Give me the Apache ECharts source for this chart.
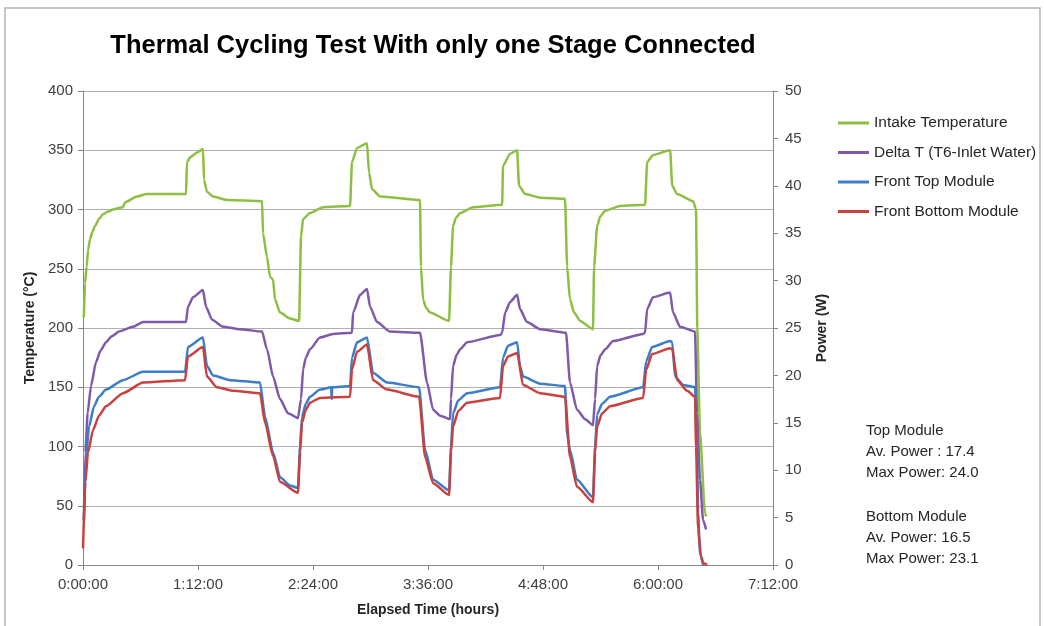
<!DOCTYPE html>
<html>
<head>
<meta charset="utf-8">
<title>Thermal Cycling Test</title>
<script src="https://cdn.jsdelivr.net/npm/echarts@6/dist/echarts.min.js"></script>
<style>
  html, body { margin: 0; padding: 0; background: #ffffff; }
  #chart { width: 1044px; height: 626px; }
</style>
</head>
<body>
<div id="chart"></div>
<script>
// Elapsed time in minutes, temperature in °C
const intakeTemperature = [
  [0.5, 209], [1.3, 238], [2.3, 252], [3.2, 266], [4.4, 275], [5.8, 281], [7.5, 286], [10.0, 292],
  [12.5, 296], [15.5, 298], [18.8, 300], [25.0, 302], [26.3, 306], [33.8, 311], [40.1, 313],
  [64.5, 313], [65.1, 340], [67.0, 344], [71.4, 348], [75.1, 351], [75.8, 325], [77.6, 315],
  [81.4, 311], [90.2, 308], [112.1, 307], [112.7, 280], [115.2, 260], [117.1, 243], [119.0, 241],
  [120.2, 224], [123.4, 213], [129.6, 208], [135.3, 206], [136.5, 277], [137.8, 292], [142.1, 297],
  [150.3, 302], [167.2, 303], [168.4, 340], [171.6, 352], [177.8, 356], [179.1, 331], [181.0, 317],
  [186.0, 311], [211.0, 308], [211.6, 252], [212.9, 224], [214.8, 217], [217.3, 213], [229.2, 206],
  [230.4, 252], [231.7, 286], [233.5, 293], [236.1, 297], [244.2, 302], [262.4, 304], [263.0, 337],
  [267.4, 347], [271.8, 350], [273.0, 320], [276.8, 313], [286.2, 310], [301.8, 309], [303.1, 252],
  [304.9, 224], [307.5, 213], [311.2, 206], [319.3, 199], [320.0, 252], [321.9, 286], [323.8, 294],
  [326.9, 299], [336.3, 303], [351.9, 304], [353.2, 340], [356.9, 346], [367.6, 350], [368.9, 320],
  [372.0, 313], [382.0, 307], [383.8, 300], [384.6, 200], [386.3, 112], [389.4, 44], [390.1, 41]
];
const deltaT = [
  [0.5, 38], [1.5, 95], [2.9, 128], [5.0, 151], [8.1, 171], [11.0, 181], [14.4, 188], [18.0, 193],
  [22.5, 197], [31.3, 201], [37.6, 205], [64.5, 205], [65.7, 218], [68.9, 226], [75.1, 232],
  [77.0, 218], [80.8, 207], [87.7, 201], [98.3, 199], [112.1, 197], [115.2, 182], [119.0, 159],
  [123.4, 140], [128.4, 128], [134.6, 124], [136.5, 140], [137.8, 165], [139.5, 175], [142.1, 182],
  [148.4, 192], [156.6, 195], [168.4, 196], [169.1, 213], [173.5, 228], [177.8, 233], [179.7, 218],
  [184.1, 205], [192.2, 197], [211.0, 196], [215.4, 154], [219.2, 131], [223.6, 126], [229.8, 123],
  [230.4, 140], [231.7, 168], [233.8, 177], [236.1, 182], [240.5, 188], [261.1, 194], [262.4, 196],
  [264.3, 213], [267.4, 222], [271.8, 228], [273.6, 216], [278.0, 205], [286.2, 199], [302.4, 196],
  [304.9, 154], [309.3, 131], [314.4, 123], [319.3, 118], [320.6, 140], [321.9, 168], [324.0, 177],
  [326.9, 182], [331.9, 189], [350.7, 195], [351.9, 196], [353.2, 216], [356.9, 226], [367.6, 230],
  [369.4, 213], [373.8, 201], [383.2, 197], [384.4, 128], [386.3, 72], [388.2, 38], [390.1, 30]
];
const frontTopModule = [
  [0.6, 38], [1.8, 90], [3.8, 117], [6.9, 134], [10.0, 142], [14.4, 148], [25.0, 156], [37.6, 163],
  [63.9, 163], [65.7, 184], [75.1, 192], [77.6, 168], [81.4, 160], [92.0, 156], [110.8, 154],
  [114.0, 125], [119.0, 95], [123.4, 74], [129.6, 67], [134.6, 65], [135.9, 100], [137.1, 125],
  [139.5, 136], [142.1, 142], [148.4, 148], [155.4, 150], [155.7, 140], [156.0, 150], [167.2, 151],
  [168.4, 175], [171.6, 188], [177.8, 192], [181.6, 162], [190.4, 154], [210.4, 150], [214.2, 97],
  [219.2, 72], [229.2, 63], [230.4, 100], [231.7, 128], [235.0, 139], [240.5, 145], [261.1, 150],
  [263.0, 175], [266.1, 185], [271.8, 188], [273.6, 168], [275.5, 159], [286.2, 153], [301.8, 151],
  [303.1, 110], [304.9, 97], [309.3, 72], [319.3, 57], [320.6, 100], [321.9, 127], [325.0, 136],
  [330.0, 142], [350.7, 150], [352.6, 172], [356.3, 184], [367.6, 189], [368.9, 188], [370.7, 159],
  [375.8, 152], [383.2, 150], [384.4, 100], [385.1, 44], [386.3, 10], [388.2, 0]
];
const frontBottomModule = [
  [0.0, 14], [1.5, 70], [3.1, 95], [6.3, 114], [10.0, 126], [14.4, 134], [25.0, 145], [37.6, 154],
  [63.9, 156], [65.7, 176], [75.1, 184], [77.6, 159], [83.9, 150], [93.9, 147], [110.8, 145],
  [114.0, 120], [119.0, 92], [123.4, 70], [134.6, 61], [135.9, 95], [137.1, 120], [139.5, 131],
  [142.1, 137], [148.4, 141], [167.2, 142], [168.4, 165], [171.6, 180], [177.8, 186], [181.6, 156],
  [190.4, 148], [210.4, 142], [214.2, 91], [219.2, 69], [229.2, 59], [230.4, 95], [231.7, 117],
  [235.0, 130], [240.5, 137], [261.1, 141], [263.0, 168], [266.1, 176], [271.8, 179], [275.5, 152],
  [286.2, 145], [301.8, 142], [304.9, 91], [309.3, 66], [319.3, 53], [320.6, 95], [321.9, 117],
  [325.0, 128], [330.0, 134], [350.7, 141], [352.6, 165], [356.3, 178], [367.6, 183], [368.9, 182],
  [372.0, 156], [378.2, 147], [383.2, 142], [383.8, 100], [385.1, 30], [387.0, 7], [388.2, 2],
  [390.7, 0]
];

const seriesNames = ['Intake Temperature', 'Delta T (T6-Inlet Water)', 'Front Top Module', 'Front Bottom Module'];
const seriesColors = ['#8dbf42', '#7e5aa8', '#3d7cc9', '#c9413f'];
const seriesData = [intakeTemperature, deltaT, frontTopModule, frontBottomModule];

const notes = [
  'Top Module', 'Av. Power : 17.4', 'Max Power: 24.0',
  'Bottom Module', 'Av. Power: 16.5', 'Max Power: 23.1'
];
const noteRows = [431, 452, 473, 517, 538, 559];

const titleText = 'Thermal Cycling Test With only one Stage Connected';

function fmtTime(v) {
  const h = Math.floor(v / 60);
  const m = Math.round(v % 60);
  return h + ':' + String(m).padStart(2, '0') + ':00';
}

const baseFont = '"Liberation Sans", Arial, sans-serif';
const axisGray = '#868686';

const chart = echarts.init(document.getElementById('chart'), null, { renderer: 'canvas' });

const graphics = [
  {
    type: 'rect', silent: true, z: -1,
    shape: { x: 5, y: 8, width: 1035, height: 640 },
    style: { fill: null, stroke: '#b4b4b4', lineWidth: 1.5 }
  },
  {
    type: 'text', silent: true,
    style: {
      text: titleText, x: 433, y: 46, align: 'center', verticalAlign: 'middle',
      font: 'bold 25.5px ' + baseFont, fill: '#000000'
    }
  }
];
notes.forEach(function (t, i) {
  graphics.push({
    type: 'text', silent: true,
    style: {
      text: t, x: 866, y: noteRows[i], verticalAlign: 'middle',
      font: '15px ' + baseFont, fill: '#262626'
    }
  });
});

chart.setOption({
  animation: false,
  backgroundColor: '#ffffff',
  grid: { left: 83, right: 271, top: 91, bottom: 61, containLabel: false },
  legend: {
    orient: 'vertical', left: 838, top: 115, padding: 0,
    itemWidth: 31, itemHeight: 3, itemGap: 13.5, icon: 'rect',
    textStyle: { fontFamily: baseFont, fontSize: 15.5, color: '#262626' },
    data: seriesNames
  },
  xAxis: {
    type: 'value', min: 0, max: 432, interval: 72,
    name: 'Elapsed Time (hours)', nameLocation: 'middle', nameGap: 38,
    nameTextStyle: { fontFamily: baseFont, fontSize: 14, fontWeight: 'bold', color: '#262626' },
    axisLine: { show: true, lineStyle: { color: axisGray, width: 1 } },
    axisTick: { show: true, inside: false, length: 5, lineStyle: { color: axisGray } },
    axisLabel: { formatter: fmtTime, margin: 12, fontFamily: baseFont, fontSize: 15, color: '#404040' },
    splitLine: { show: false }
  },
  yAxis: [
    {
      type: 'value', min: 0, max: 400, interval: 50, position: 'left',
      name: 'Temperature (°C)', nameLocation: 'middle', nameGap: 46, nameRotate: 90,
      nameTextStyle: { fontFamily: baseFont, fontSize: 14, fontWeight: 'bold', color: '#262626' },
      axisLine: { show: true, lineStyle: { color: axisGray, width: 1 } },
      axisTick: { show: true, inside: false, length: 5, lineStyle: { color: axisGray } },
      axisLabel: { margin: 10, fontFamily: baseFont, fontSize: 15, color: '#404040' },
      splitLine: { show: true, lineStyle: { color: '#b0b0b0', width: 1 } }
    },
    {
      type: 'value', min: 0, max: 50, interval: 5, position: 'right',
      name: 'Power (W)', nameLocation: 'middle', nameGap: 42, nameRotate: 90,
      nameTextStyle: { fontFamily: baseFont, fontSize: 14, fontWeight: 'bold', color: '#262626' },
      axisLine: { show: true, lineStyle: { color: axisGray, width: 1 } },
      axisTick: { show: true, inside: false, length: 5, lineStyle: { color: axisGray } },
      axisLabel: { margin: 12, fontFamily: baseFont, fontSize: 15, color: '#404040' },
      splitLine: { show: false }
    }
  ],
  graphic: graphics,
  series: seriesData.map(function (d, i) {
    return {
      name: seriesNames[i], type: 'line', yAxisIndex: 0, data: d,
      showSymbol: false, symbol: 'none',
      smooth: 0.2, smoothMonotone: 'x',
      lineStyle: { color: seriesColors[i], width: 2.5 },
      itemStyle: { color: seriesColors[i] },
      z: 2 + i
    };
  })
});
</script>
</body>
</html>
